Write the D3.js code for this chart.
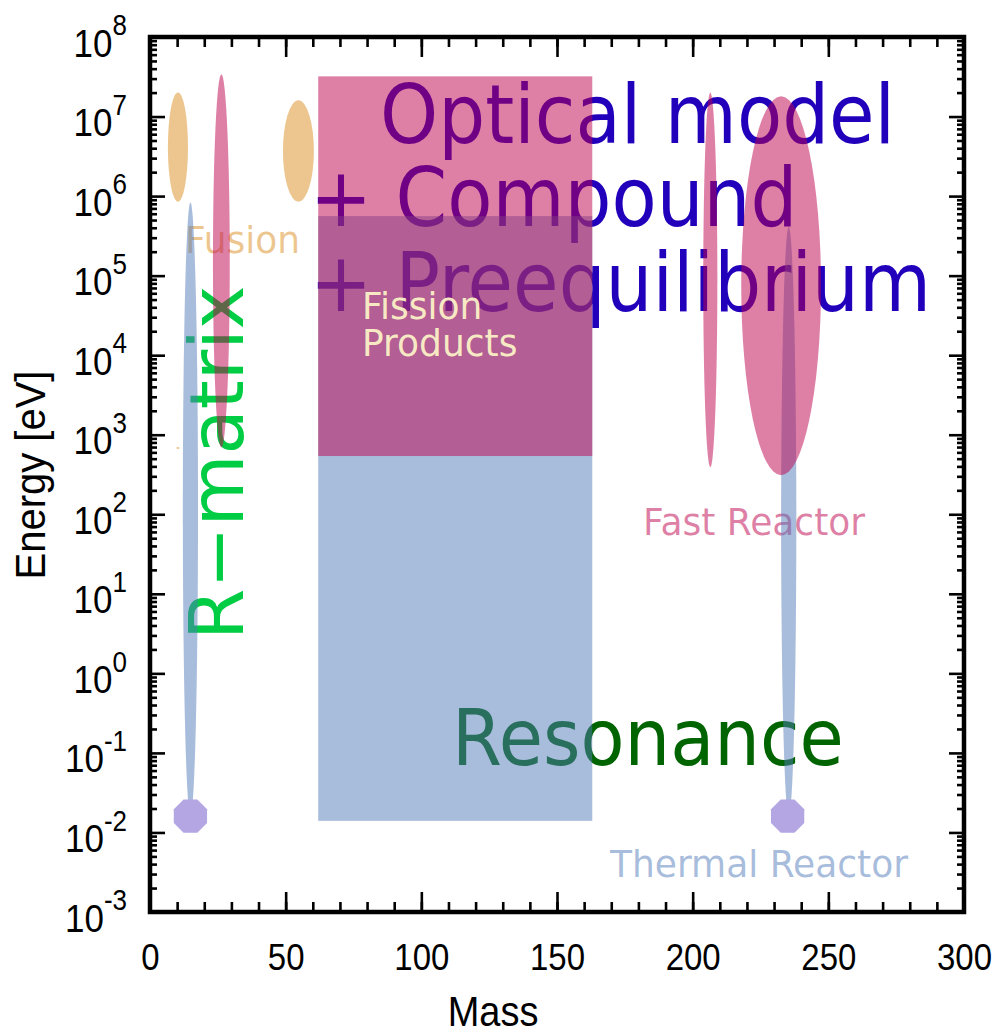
<!DOCTYPE html>
<html>
<head>
<meta charset="utf-8">
<script src="https://cdn.jsdelivr.net/npm/d3@7"></script>
<style>
  body { margin: 0; background: #fff; }
  svg { display: block; }
</style>
</head>
<body>
<svg id="chart" width="1004" height="1036"></svg>
<script>
// ---- axis ticks ----
const massTicks = [0, 50, 100, 150, 200, 250, 300];
const massMinorTicks = d3.range(0, 301, 10);
const energyExponents = [-3, -2, -1, 0, 1, 2, 3, 4, 5, 6, 7, 8];

// ---- rectangular regions: mass range, energy range (eV) ----
const resonanceMass = [62, 163];
const resonanceEnergy = [0.014, 5.6e5];
const fissionMass = [62, 163];
const fissionEnergy = [540, 3.2e7];

// ---- spindles: centre mass, half width (mass units), energy range (eV) ----
const fusionSpots = [
  { mass: 10.3, half: 3.7, energy: [8.5e5, 2.0e7] },
  { mass: 54.7, half: 5.7, energy: [8.5e5, 1.6e7] },
  { mass: 10.3, half: 0.6, energy: [660, 700] }
];
const fastSpots = [
  { mass: 26.3, half: 3.1, energy: [690, 3.4e7] },
  { mass: 206.5, half: 2.6, energy: [390, 2.0e7] },
  { mass: 232.6, half: 14.7, energy: [310, 1.8e7] }
];
const thermalSpots = [
  { mass: 14.9, half: 2.8, energy: [0.016, 8.3e5] },
  { mass: 235.4, half: 2.8, energy: [0.016, 4.1e5] }
];
const thermalPoints = [
  { mass: 14.9, energy: 0.016 },
  { mass: 235, energy: 0.016 }
];

// ---- colours ----
const pink = "#bd014d", blue = "#5179b9", orange = "#d98d1d";

const svg = d3.select("#chart");
const plotLeft = 150, plotRight = 964, plotTop = 37, plotBottom = 912;

const x = d3.scaleLinear().domain([0, 300]).range([plotLeft, plotRight]);
const y = d3.scaleLog().domain([1e-3, 1e8]).range([plotBottom, plotTop]);

svg.append("rect").attr("width", 1004).attr("height", 1036).attr("fill", "#fff");

const labelFont = "'DejaVu Sans', Verdana, sans-serif";
const axisFont = "'Liberation Sans', Arial, Helvetica, sans-serif";

// text placed at (px, py), slightly stretched vertically
function tallText(g, px, py, str, stretch) {
  return g.append("text")
    .attr("transform", `translate(${px},${py}) scale(1,${stretch})`)
    .text(str);
}

// ---- text layer under the shaded regions ----
const texts = svg.append("g").attr("font-family", labelFont);

const opt = texts.append("g").attr("fill", "#2200bb").attr("font-size", 74);
tallText(opt, 380, 143, "Optical model", 1.1);
tallText(opt, 310, 226, "+ Compound", 1.1);
tallText(opt, 310, 311, "+ Preequilibrium", 1.1);

texts.append("text")
  .attr("transform", "translate(243,640) rotate(-90)")
  .attr("fill", "#00cc44").attr("font-size", 74)
  .text("R\u2212matrix");

tallText(texts, 452, 765, "Resonance", 1.1)
  .attr("fill", "#006400").attr("font-size", 72);

tallText(texts, 643, 535, "Fast Reactor", 1.05)
  .attr("fill", pink).attr("fill-opacity", 0.5).attr("font-size", 36);
tallText(texts, 610, 877, "Thermal Reactor", 1.05)
  .attr("fill", blue).attr("fill-opacity", 0.5).attr("font-size", 36);
tallText(texts, 185, 253, "Fusion", 1.05)
  .attr("fill", orange).attr("fill-opacity", 0.5).attr("font-size", 36);

// ---- shaded regions ----
const shapes = svg.append("g").attr("fill-opacity", 0.5);

function drawBox(mass, energy, color) {
  shapes.append("rect")
    .attr("x", x(mass[0])).attr("y", y(energy[1]))
    .attr("width", x(mass[1]) - x(mass[0]))
    .attr("height", y(energy[0]) - y(energy[1]))
    .attr("fill", color);
}
function drawSpots(data, color) {
  shapes.selectAll(null).data(data).enter().append("ellipse")
    .attr("cx", d => x(d.mass))
    .attr("rx", d => x(d.mass + d.half) - x(d.mass))
    .attr("cy", d => (y(d.energy[0]) + y(d.energy[1])) / 2)
    .attr("ry", d => (y(d.energy[0]) - y(d.energy[1])) / 2)
    .attr("fill", color);
}

drawBox(resonanceMass, resonanceEnergy, blue);
drawSpots(thermalSpots, blue);
drawBox(fissionMass, fissionEnergy, pink);
drawSpots(fastSpots, pink);
drawSpots(fusionSpots, orange);

// thermal points as octagons
const octR = 18;
const octagon = d3.range(8).map(i => {
  const a = Math.PI / 8 + i * Math.PI / 4;
  return [octR * Math.cos(a), octR * Math.sin(a)];
});
svg.append("g").selectAll("polygon").data(thermalPoints).enter().append("polygon")
  .attr("points", octagon.map(p => p.join(",")).join(" "))
  .attr("transform", d => `translate(${x(d.mass)},${y(d.energy)})`)
  .attr("fill", "#b3a6e3");

// label on top of the fission-product block
const fp = svg.append("g").attr("font-family", labelFont).attr("font-size", 36)
  .attr("fill", "#fff8c8").attr("fill-opacity", 0.92);
tallText(fp, 362, 319, "Fission", 1.05);
tallText(fp, 362, 356, "Products", 1.05);

// ---- axes ----
const axes = svg.append("g").attr("font-family", axisFont);
const stretch = 1.12;

const energyMajor = energyExponents.map(e => Math.pow(10, e));
const energyMinor = [];
energyExponents.slice(0, -1).forEach(e => {
  for (let k = 2; k <= 9; k++) energyMinor.push(k * Math.pow(10, e));
});

function styleAxis(g) {
  g.select(".domain").remove();
  g.selectAll(".tick line").attr("stroke", "#000").attr("stroke-width", 2.6);
}

// bottom
axes.append("g").attr("transform", `translate(0,${plotBottom})`)
  .call(d3.axisBottom(x).tickValues(massMinorTicks).tickSize(-10).tickFormat(""))
  .call(styleAxis);
const bAxis = axes.append("g").attr("transform", `translate(0,${plotBottom})`)
  .call(d3.axisBottom(x).tickValues(massTicks).tickSize(-20).tickFormat(""))
  .call(styleAxis);
bAxis.selectAll(".tick").append("text")
  .attr("transform", `translate(0,58) scale(1,${stretch})`)
  .attr("text-anchor", "middle").attr("fill", "#000")
  .attr("font-size", 33)
  .text(d => d);

// top
axes.append("g").attr("transform", `translate(0,${plotTop})`)
  .call(d3.axisTop(x).tickValues(massMinorTicks).tickSize(-10).tickFormat(""))
  .call(styleAxis);
axes.append("g").attr("transform", `translate(0,${plotTop})`)
  .call(d3.axisTop(x).tickValues(massTicks).tickSize(-20).tickFormat(""))
  .call(styleAxis);

// left
axes.append("g").attr("transform", `translate(${plotLeft},0)`)
  .call(d3.axisLeft(y).tickValues(energyMinor).tickSize(-7).tickFormat(""))
  .call(styleAxis);
const lAxis = axes.append("g").attr("transform", `translate(${plotLeft},0)`)
  .call(d3.axisLeft(y).tickValues(energyMajor).tickSize(-15).tickFormat(""))
  .call(styleAxis);
const lab = lAxis.selectAll(".tick").append("text")
  .attr("transform", `translate(-23,19) scale(1,${stretch})`)
  .attr("text-anchor", "end").attr("fill", "#000")
  .attr("font-size", 35);
lab.append("tspan").text("10");
lab.append("tspan").attr("dy", -19).attr("font-size", 26)
  .text(d => String(Math.round(Math.log10(d))));

// right
axes.append("g").attr("transform", `translate(${plotRight},0)`)
  .call(d3.axisRight(y).tickValues(energyMinor).tickSize(-7).tickFormat(""))
  .call(styleAxis);
axes.append("g").attr("transform", `translate(${plotRight},0)`)
  .call(d3.axisRight(y).tickValues(energyMajor).tickSize(-15).tickFormat(""))
  .call(styleAxis);

// frame
axes.append("rect").attr("x", plotLeft).attr("y", plotTop)
  .attr("width", plotRight - plotLeft).attr("height", plotBottom - plotTop)
  .attr("fill", "none").attr("stroke", "#000").attr("stroke-width", 4.5);

// axis titles
axes.append("text")
  .attr("transform", `translate(${(plotLeft + plotRight) / 2 - 64},1026) scale(1,${stretch})`)
  .attr("text-anchor", "middle").attr("font-size", 38).text("Mass");
axes.append("text").attr("transform", "translate(45,475) rotate(-90) scale(1.0,1.08)")
  .attr("text-anchor", "middle").attr("font-size", 40).text("Energy [eV]");
</script>
</body>
</html>
